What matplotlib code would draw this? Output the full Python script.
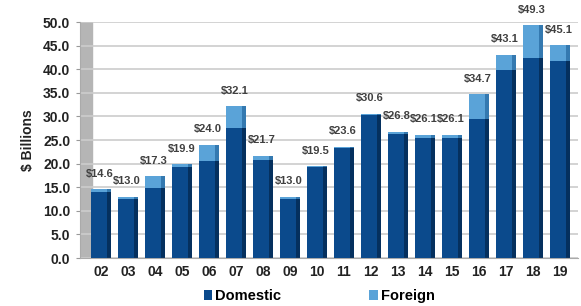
import matplotlib.pyplot as plt
import numpy as np

years = ['02', '03', '04', '05', '06', '07', '08', '09', '10',
         '11', '12', '13', '14', '15', '16', '17', '18', '19']
totals = [14.6, 13.0, 17.3, 19.9, 24.0, 32.1, 21.7, 13.0, 19.5,
          23.6, 30.6, 26.8, 26.1, 26.1, 34.7, 43.1, 49.3, 45.1]
domestic = [14.0, 12.5, 14.8, 19.3, 20.5, 27.5, 20.8, 12.5, 19.2,
            23.2, 30.2, 26.3, 25.5, 25.5, 29.5, 39.8, 42.3, 41.8]
foreign = [t - d for t, d in zip(totals, domestic)]

plt.rcParams['font.family'] = ['Liberation Sans', 'DejaVu Sans']

dark = '#0b4a8c'
dark_side = '#05305e'
light = '#5aa3d8'
light_side = '#3479b0'

fig = plt.figure(figsize=(5.81, 3.06), dpi=100)
ax = fig.add_axes([80 / 581, 1 - 258 / 306, 498 / 581, 236 / 306])

x = np.arange(len(years))
w = 0.58
sw = 0.17

# side faces for the 3d look
ax.bar(x + w / 2 + sw / 2 - 0.01, domestic, width=sw, color=dark_side, zorder=2)
ax.bar(x + w / 2 + sw / 2 - 0.01, foreign, bottom=domestic, width=sw,
       color=light_side, zorder=2)
ax.bar(x, domestic, width=w, color=dark, zorder=3, label='Domestic')
ax.bar(x, foreign, bottom=domestic, width=w, color=light, zorder=3, label='Foreign')

for xi, t in zip(x, totals):
    ax.text(xi + 0.05, t + 2.2, '$%.1f' % t, ha='center', va='bottom',
            fontsize=8, fontweight='bold', color='#404040', clip_on=False)

ax.set_xlim(-0.7, 17.75)
ax.set_ylim(0, 50)
ax.set_yticks(np.arange(0, 51, 5))
ax.set_yticklabels(['%.1f' % v for v in np.arange(0, 51, 5)],
                   fontsize=10, fontweight='bold', color='#222222')
ax.set_xticks(x + 0.08)
ax.set_xticklabels(years, fontsize=10, fontweight='bold', color='#222222')
ax.tick_params(axis='x', length=0, pad=5)
ax.tick_params(axis='y', length=3, color='#999999', pad=4)

ax.grid(axis='y', color='#cccccc', linewidth=1.2, zorder=0)
for s in ['top', 'right']:
    ax.spines[s].set_visible(False)
ax.spines['left'].set_color('#aaaaaa')
ax.spines['bottom'].set_color('#aaaaaa')

# gray side wall
ax.axvspan(-0.7, -0.25, color='#b5b5b5', zorder=1)

ax.set_ylabel('$ Billions', fontsize=10, fontweight='bold', color='#222222',
              labelpad=6)

ax.legend(loc='center', bbox_to_anchor=(0.48, -0.162), ncol=2, frameon=False,
          prop={'size': 10.5, 'weight': 'bold'}, handlelength=0.6, handleheight=0.6,
          columnspacing=6, handletextpad=0.2, borderpad=0)

fig.savefig('out.png', dpi=100)
